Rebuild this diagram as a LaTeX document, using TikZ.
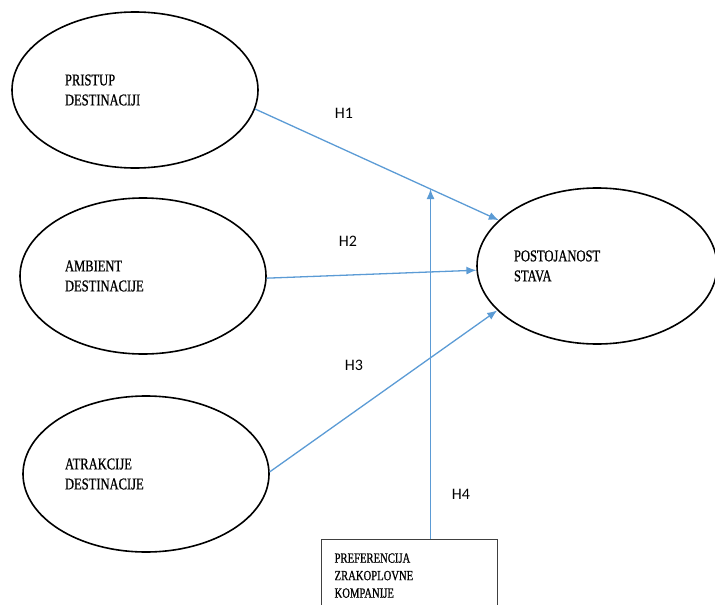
\documentclass[tikz,border=0pt]{standalone}
\usepackage{fontspec}
\setmainfont[FakeStretch=0.76, FakeBold=0.8]{Liberation Serif}
\newfontfamily\hypfont{Carlito}
\usetikzlibrary{shapes.geometric,arrows.meta}
\definecolor{linkblue}{HTML}{5B9BD5}

\begin{document}
\begin{tikzpicture}[x=1pt, y=-1pt,
  construct/.style={draw, ellipse, line width=1.6pt, inner sep=0pt,
    minimum width=246pt, minimum height=156pt, align=left,
    font=\fontsize{16.5}{20}\selectfont},
  moderator/.style={draw=black!75, line width=1.2pt, anchor=north west,
    inner xsep=13pt, inner ysep=0pt, text width=150pt, minimum height=72pt,
    align=left, font=\fontsize{14}{17.5}\selectfont},
  hypline/.style={draw=linkblue, line width=1.3pt, -{Latex[length=10pt,width=8pt]}},
  hyp/.style={font=\hypfont\fontsize{16}{18}\selectfont}]
\useasboundingbox (0,0) rectangle (715,605);
\clip (0,0) rectangle (715,605);

% konstrukti
\node[construct, text width=140pt] (pristup) at (135,90) {PRISTUP\\DESTINACIJI};
\node[construct, text width=156pt] (ambijent) at (143,276) {AMBIENT\\DESTINACIJE};
\node[construct, text width=162pt] (atrakcije) at (146,474) {ATRAKCIJE\\DESTINACIJE};
\node[construct, minimum width=240pt, text width=166pt] (stav) at (597,266) {POSTOJANOST\\STAVA};
\node[moderator] (airline) at (321,539) {PREFERENCIJA\\ZRAKOPLOVNE\\KOMPANIJE};

% hipoteze
\draw[hypline] (pristup.-9) -- (stav.155) coordinate[pos=0.72] (meet);
\draw[hypline] (ambijent.-1) -- (stav.182);
\draw[hypline] (atrakcije.1) -- (stav.204);
\draw[hypline] (airline.north -| meet) -- (meet);

\node[hyp] (h1) at (344,113) {H1};
\node[hyp] (h2) at (348,241) {H2};
\node[hyp] (h3) at (354,365) {H3};
\node[hyp] (h4) at (461,494) {H4};
\end{tikzpicture}
\end{document}
